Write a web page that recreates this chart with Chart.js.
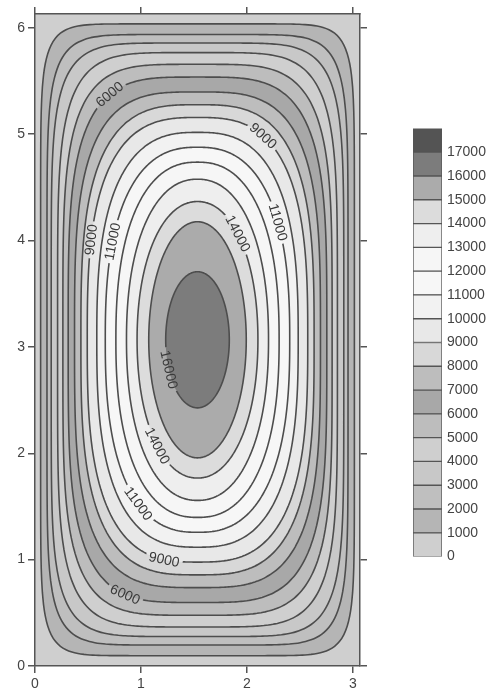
<!DOCTYPE html>
<html>
<head>
<meta charset="utf-8">
<script src="https://cdn.jsdelivr.net/npm/chart.js@4.4.1/dist/chart.umd.min.js"></script>
<style>
    html, body { margin: 0; padding: 0; background: #fff; }
    #wrap { position: relative; width: 487px; height: 691px; overflow: hidden; }
    #plot { position: absolute; left: 0; top: 0; }
    #bar  { position: absolute; left: 413px; top: 115px; }
</style>
</head>
<body>
<div id="wrap">
    <canvas id="plot" width="487" height="691"></canvas>
    <canvas id="bar" width="74" height="455"></canvas>
</div>
<script>
// ─── Data ─────────────────────────────────────────────

const X_MAX    = 3.066;
const Y_MAX    = 6.13;
const CENTER_X = 1.533;
const CENTER_Y = 3.067;

const xTicks = [0, 1, 2, 3];
const yTicks = [0, 1, 2, 3, 4, 5, 6];

// contour levels and the extent of each closed contour around the centre
const levels      = [1000, 2000, 3000, 4000, 5000, 6000, 7000, 8000, 9000, 10000, 11000, 12000, 13000, 14000, 15000, 16000];
const halfWidths  = [1.48, 1.42, 1.38, 1.32, 1.27, 1.22, 1.16, 1.10, 1.04, 0.95, 0.87, 0.77, 0.67, 0.57, 0.46, 0.30];
const halfHeights = [2.97, 2.87, 2.79, 2.70, 2.59, 2.47, 2.33, 2.21, 2.09, 1.95, 1.81, 1.67, 1.51, 1.30, 1.11, 0.64];
const squareness  = [10, 7.5, 6, 5, 4.3, 3.8, 3.4, 3.1, 2.9, 2.7, 2.5, 2.35, 2.2, 2.1, 2.0, 2.0];

// colour bar: band lower edges and grey of each band
const bandEdges  = [0, 1000, 2000, 3000, 4000, 5000, 6000, 7000, 8000, 9000, 10000, 11000, 12000, 13000, 14000, 15000, 16000, 17000];
const bandColors = ['#cfcfcf', '#b5b5b5', '#bfbfbf', '#c8c8c8', '#cfcfcf', '#bdbdbd', '#a8a8a8', '#bdbdbd',
                    '#d8d8d8', '#e8e8e8', '#f2f2f2', '#f7f7f7', '#f6f6f6', '#eeeeee', '#dcdcdc', '#ababab',
                    '#7c7c7c', '#545454'];

// inline contour labels: level and where on the contour (degrees around centre)
const labelLevels = [6000, 9000, 9000, 11000, 11000, 14000, 14000, 11000, 9000, 6000, 16000];
const labelAngles = [126, 57, 155, 151, 35, 49, -131, -127, -107, -120, -154];

// ─── Helpers ──────────────────────────────────────────

const FONT_FAMILY = "'Liberation Sans', Arial, sans-serif";
const LABEL_FONT  = `14px ${FONT_FAMILY}`;
const LINE_COLOR  = '#4d4d4d';

function contourPoint(i, deg) {
    const a = deg * Math.PI / 180;
    const c = Math.cos(a), s = Math.sin(a);
    const n = squareness[i];
    const r = Math.pow(Math.pow(Math.abs(c), n) + Math.pow(Math.abs(s), n), -1 / n);
    return { x: CENTER_X + halfWidths[i] * r * c, y: CENTER_Y + halfHeights[i] * r * s };
}

function contourPath(i) {
    const pts = [];
    for (let k = 0; k <= 240; k++) pts.push(contourPoint(i, k * 1.5));
    return pts;
}

function labelBoxes(chart) {
    const { x: sx, y: sy } = chart.scales;
    const ctx = chart.ctx;
    ctx.save();
    ctx.font = LABEL_FONT;
    const boxes = labelLevels.map((lv, k) => {
        const i  = levels.indexOf(lv);
        const p  = contourPoint(i, labelAngles[k]);
        const p0 = contourPoint(i, labelAngles[k] - 1);
        const p1 = contourPoint(i, labelAngles[k] + 1);
        let ang = Math.atan2(
            sy.getPixelForValue(p1.y) - sy.getPixelForValue(p0.y),
            sx.getPixelForValue(p1.x) - sx.getPixelForValue(p0.x));
        if (ang > Math.PI / 2)  ang -= Math.PI;
        if (ang < -Math.PI / 2) ang += Math.PI;
        const text = String(lv);
        return { px: sx.getPixelForValue(p.x), py: sy.getPixelForValue(p.y), ang, text, w: ctx.measureText(text).width };
    });
    ctx.restore();
    return boxes;
}

// ─── Plugins ──────────────────────────────────────────

const areaFill = {
    id: 'areaFill',
    beforeDraw(chart) {
        const { ctx, chartArea: a } = chart;
        ctx.save();
        ctx.fillStyle = bandColors[0];
        ctx.fillRect(a.left, a.top, a.right - a.left, a.bottom - a.top);
        ctx.restore();
    },
};

const contourLabels = {
    id: 'contourLabels',
    beforeDatasetsDraw(chart) {
        chart.$labelBoxes = labelBoxes(chart);
    },
    beforeDatasetDraw(chart, args) {
        if (!args.meta._dataset.contourLine) return;
        const ctx = chart.ctx;
        ctx.save();
        ctx.beginPath();
        ctx.rect(0, 0, chart.width, chart.height);
        chart.$labelBoxes.forEach(b => {
            const hw = b.w / 2 + 3, hh = 5;
            const c = Math.cos(b.ang), s = Math.sin(b.ang);
            const pts = [[-hw, -hh], [hw, -hh], [hw, hh], [-hw, hh]]
                .map(([u, v]) => [b.px + u * c - v * s, b.py + u * s + v * c]);
            ctx.moveTo(pts[0][0], pts[0][1]);
            pts.slice(1).forEach(([x, y]) => ctx.lineTo(x, y));
            ctx.closePath();
        });
        ctx.clip('evenodd');
    },
    afterDatasetDraw(chart, args) {
        if (args.meta._dataset.contourLine) chart.ctx.restore();
    },
    afterDatasetsDraw(chart) {
        const ctx = chart.ctx;
        ctx.save();
        ctx.font = LABEL_FONT;
        ctx.fillStyle = '#3a3a3a';
        ctx.textAlign = 'center';
        ctx.textBaseline = 'middle';
        chart.$labelBoxes.forEach(b => {
            ctx.save();
            ctx.translate(b.px, b.py);
            ctx.rotate(b.ang);
            ctx.fillText(b.text, 0, 0.5);
            ctx.restore();
        });
        ctx.restore();
    },
};

// ─── Contour chart ────────────────────────────────────

const datasets = [];
levels.forEach((lv, i) => {
    const pts = contourPath(i);
    datasets.push({
        data: pts, showLine: true, fill: 'shape', tension: 0.1,
        backgroundColor: bandColors[i + 1], borderWidth: 0, pointRadius: 0,
        order: 100 - i,
    });
    datasets.push({
        data: pts, showLine: true, fill: false, tension: 0.1, contourLine: true,
        borderColor: LINE_COLOR, borderWidth: 1.6, pointRadius: 0,
        order: 50 - i,
    });
});

const tickFont = { family: FONT_FAMILY, size: 14 };

function axis(position, min, max, ticks, showLabels, size) {
    const horizontal = position === 'top' || position === 'bottom';
    return {
        type: 'linear', position, min, max,
        afterBuildTicks: s => { s.ticks = ticks.map(v => ({ value: v })); },
        ticks: { display: showLabels, color: '#444', font: tickFont, padding: 3, autoSkip: false, maxRotation: 0 },
        grid: { drawOnChartArea: false, drawTicks: true, tickLength: 7, color: '#555', lineWidth: 1.5 },
        border: { color: '#555', width: 1.5, z: 1 },
        afterFit: s => { if (horizontal) s.height = size; else s.width = size; },
    };
}

new Chart(document.getElementById('plot'), {
    type: 'scatter',
    data: { datasets },
    options: {
        responsive: false,
        animation: false,
        layout: { padding: 0 },
        plugins: { legend: { display: false }, tooltip: { enabled: false } },
        scales: {
            x:  axis('bottom', 0, X_MAX, xTicks, true, 25),
            x2: axis('top',    0, X_MAX, xTicks, false, 14),
            y:  axis('left',   0, Y_MAX, yTicks, true, 35),
            y2: axis('right',  0, Y_MAX, yTicks, false, 127),
        },
    },
    plugins: [areaFill, contourLabels],
});

// ─── Colour bar ───────────────────────────────────────

const barTop = bandEdges[bandEdges.length - 1] + 1000;

new Chart(document.getElementById('bar'), {
    type: 'bar',
    data: {
        labels: [''],
        datasets: bandColors.map((c, i) => ({
            data: [(bandEdges[i + 1] ?? barTop) - bandEdges[i]],
            backgroundColor: c, borderColor: '#555', borderWidth: 1, borderSkipped: false,
            barPercentage: 1, categoryPercentage: 1,
        })),
    },
    options: {
        responsive: false,
        animation: false,
        layout: { padding: { top: 8, bottom: 12 } },
        plugins: { legend: { display: false }, tooltip: { enabled: false } },
        scales: {
            x: { display: false, stacked: true },
            y: {
                stacked: true, position: 'right', min: 0, max: barTop,
                afterBuildTicks: s => { s.ticks = bandEdges.map(v => ({ value: v })); },
                ticks: { color: '#444', font: { family: FONT_FAMILY, size: 14 }, padding: 5, callback: v => String(v) },
                grid: { display: false, drawTicks: false },
                border: { display: false },
                afterFit: s => { s.width = 45; },
            },
        },
    },
});
</script>
</body>
</html>
